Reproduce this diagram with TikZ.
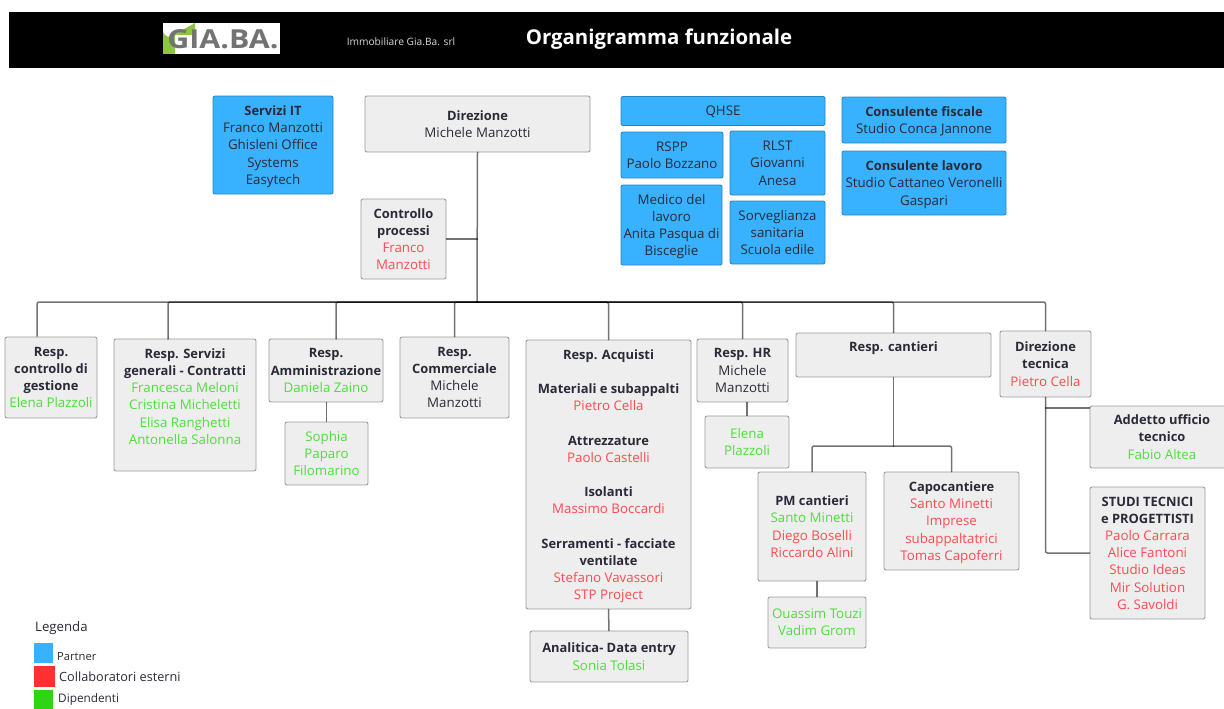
\documentclass[tikz,border=0pt]{standalone}
\usepackage{fontspec}
\setmainfont{Open Sans}[BoldFeatures={Scale=0.97}]
\usepackage{tikz}
\definecolor{partnerblue}{HTML}{38B1FF}
\definecolor{partnerline}{HTML}{2A85BF}
\definecolor{boxgrey}{HTML}{EEEEEE}
\definecolor{boxline}{HTML}{9A9A9A}
\definecolor{nametext}{HTML}{2A2A38}
\definecolor{collabred}{HTML}{FF4A4F}
\definecolor{dipgreen}{HTML}{4CDF3A}
\definecolor{legendred}{HTML}{FF3030}
\definecolor{legendgreen}{HTML}{2FD514}
\definecolor{logogreen}{HTML}{8CC63F}
\tikzset{
	sized/.style 2 args={minimum width=#1,minimum height=#2},
	base/.style={rounded corners=2pt,line width=0.9pt,align=center,inner sep=0pt,text depth=-4pt,text=nametext,font=\fontsize{13.3}{17.2}\selectfont},
	greybox/.style={base,draw=boxline,fill=boxgrey},
	bluebox/.style={base,draw=partnerline,fill=partnerblue},
	link/.style={draw=black,draw opacity=0.55,line width=1.5pt,rounded corners=2pt},
	legendtext/.style={anchor=west,inner sep=0pt,text=nametext}
}
\begin{document}
\begin{tikzpicture}[line cap=round,line join=round,x=1pt,y=-1pt]
	\useasboundingbox (0,0) rectangle (1224,709);
	\fill[black] (9,12) rectangle (1224,68);
	\fill[white] (163,23) rectangle (280,54);
	\fill[logogreen] (163,54) -- (163,30) arc (180:90:7) -- (195,23) -- (195,35) -- (175,35) -- (175,54) -- cycle;
	\node[anchor=center,inner sep=0pt,text=black!55] (logo) at (223,39) {\fontsize{27}{27}\selectfont\bfseries\scalebox{1.16}[1]{GIA.BA.}};
	\node[anchor=center,inner sep=0pt,text=white!85!black] (company) at (401,41.5) {\fontsize{10.2}{12}\selectfont Immobiliare Gia.Ba. srl};
	\node[anchor=center,inner sep=0pt,text=white] (title) at (659,39) {\fontsize{21}{24}\selectfont\bfseries Organigramma funzionale};

	\node[bluebox,sized={120pt}{98pt}] (it) at (273,145) {\textbf{Servizi IT}\\Franco Manzotti\\Ghisleni Office\\Systems\\Easytech};
	\node[greybox,sized={225pt}{56pt}] (direzione) at (477.5,124) {\textbf{Direzione}\\Michele Manzotti};
	\node[greybox,sized={85pt}{80pt}] (controllo) at (403.5,239) {\textbf{Controllo}\\\textbf{processi}\\\textcolor{collabred}{Franco}\\\textcolor{collabred}{Manzotti}};

	\node[bluebox,sized={204pt}{29pt}] (qhse) at (723,111) {QHSE};
	\node[bluebox,sized={102pt}{46pt}] (rspp) at (672,155) {RSPP\\Paolo Bozzano};
	\node[bluebox,sized={95pt}{64pt}] (rlst) at (777.5,163) {RLST\\Giovanni\\Anesa};
	\node[bluebox,sized={101pt}{80pt}] (medico) at (671.5,225) {Medico del\\lavoro\\Anita Pasqua di\\Bisceglie};
	\node[bluebox,sized={95pt}{63pt}] (sorveglianza) at (777.5,232.5) {Sorveglianza\\sanitaria\\Scuola edile};
	\node[bluebox,sized={164pt}{46pt}] (fiscale) at (924,120) {\textbf{Consulente fiscale}\\Studio Conca Jannone};
	\node[bluebox,sized={164pt}{64pt}] (lavoro) at (924,183) {\textbf{Consulente lavoro}\\Studio Cattaneo Veronelli\\Gaspari};

	\node[greybox,sized={92pt}{81pt}] (gestione) at (51,377.5) {\textbf{Resp.}\\\textbf{controllo di}\\\textbf{gestione}\\\textcolor{dipgreen}{Elena Plazzoli}};
	\node[greybox,sized={142pt}{132pt}] (servizi) at (185,405) {\textbf{Resp. Servizi}\\\textbf{generali - Contratti}\\\textcolor{dipgreen}{Francesca Meloni}\\\textcolor{dipgreen}{Cristina Micheletti}\\\textcolor{dipgreen}{Elisa Ranghetti}\\\textcolor{dipgreen}{Antonella Salonna}\\~};
	\node[greybox,sized={114pt}{63pt}] (amministrazione) at (326,370.5) {\textbf{Resp.}\\\textbf{Amministrazione}\\\textcolor{dipgreen}{Daniela Zaino}};
	\node[greybox,sized={83pt}{63pt}] (sophia) at (326.5,453.5) {\textcolor{dipgreen}{Sophia}\\\textcolor{dipgreen}{Paparo}\\\textcolor{dipgreen}{Filomarino}};
	\node[greybox,sized={109pt}{81pt}] (commerciale) at (454.5,377.5) {\textbf{Resp.}\\\textbf{Commerciale}\\Michele\\Manzotti};
	\node[greybox,sized={165pt}{269pt}] (acquisti) at (608.5,474.5) {\textbf{Resp. Acquisti}\\~\\\textbf{Materiali e subappalti}\\\textcolor{collabred}{Pietro Cella}\\~\\\textbf{Attrezzature}\\\textcolor{collabred}{Paolo Castelli}\\~\\\textbf{Isolanti}\\\textcolor{collabred}{Massimo Boccardi}\\~\\\textbf{Serramenti - facciate}\\\textbf{ventilate}\\\textcolor{collabred}{Stefano Vavassori}\\\textcolor{collabred}{STP Project}};
	\node[greybox,sized={158pt}{51pt}] (analitica) at (609,656.5) {\textbf{Analitica- Data entry}\\\textcolor{dipgreen}{Sonia Tolasi}};
	\node[greybox,sized={91pt}{63pt}] (hr) at (742.5,370.5) {\textbf{Resp. HR}\\Michele\\Manzotti};
	\node[greybox,sized={84pt}{52pt}] (elena) at (747,442) {\textcolor{dipgreen}{Elena}\\\textcolor{dipgreen}{Plazzoli}};
	\node[greybox,sized={195pt}{44pt}] (cantieri) at (893.5,355) {\textbf{Resp. cantieri}\\~};
	\node[greybox,sized={108pt}{109pt}] (pm) at (812,526.5) {\textbf{PM cantieri}\\\textcolor{dipgreen}{Santo Minetti}\\\textcolor{collabred}{Diego Boselli}\\\textcolor{collabred}{Riccardo Alini}};
	\node[greybox,sized={135pt}{98pt}] (capo) at (951.5,521) {\textbf{Capocantiere}\\\textcolor{collabred}{Santo Minetti}\\\textcolor{collabred}{Imprese}\\\textcolor{collabred}{subappaltatrici}\\\textcolor{collabred}{Tomas Capoferri}};
	\node[greybox,sized={98pt}{51pt}] (ouassim) at (817,622.5) {\textcolor{dipgreen}{Ouassim Touzi}\\\textcolor{dipgreen}{Vadim Grom}};
	\node[greybox,sized={91pt}{66pt}] (tecnica) at (1045.5,364) {\textbf{Direzione}\\\textbf{tecnica}\\\textcolor{collabred}{Pietro Cella}};
	\node[greybox,sized={144pt}{62pt}] (addetto) at (1162,437) {\textbf{Addetto ufficio}\\\textbf{tecnico}\\\textcolor{dipgreen}{Fabio Altea}};
	\node[greybox,sized={115pt}{132pt}] (studi) at (1147.5,553) {\textbf{STUDI TECNICI}\\\textbf{e PROGETTISTI}\\\textcolor{collabred}{Paolo Carrara}\\\textcolor{collabred}{Alice Fantoni}\\\textcolor{collabred}{Studio Ideas}\\\textcolor{collabred}{Mir Solution}\\\textcolor{collabred}{G. Savoldi}};

	\coordinate (bus) at (477,302);
	\coordinate (gestionetop) at (37,336);
	\coordinate (servizitop) at (168,339);
	\coordinate (amministrazionetop) at (336,339);
	\coordinate (cantieribus) at (893.5,446);
	\coordinate (tecnicatap) at (1045.5,408);
	\draw[link] (direzione.south) -- (bus);
	\draw[link] (controllo.east) -- (controllo.east -| direzione.south);
	\draw[link] (bus) -| (gestionetop);
	\draw[link] (bus) -| (servizitop);
	\draw[link] (bus) -| (amministrazionetop);
	\draw[link] (bus) -| (commerciale.north);
	\draw[link] (bus) -| (acquisti.north);
	\draw[link] (bus) -| (hr.north);
	\draw[link] (bus) -| (cantieri.north);
	\draw[link] (bus) -| (tecnica.north);
	\draw[link] (amministrazione.south -| sophia.north) -- (sophia.north);
	\draw[link] (elena.north |- hr.south) -- (elena.north);
	\draw[link] (acquisti.south) -- (analitica.north);
	\draw[link] (cantieri.south) -- (cantieribus);
	\draw[link] (cantieribus) -| (pm.north);
	\draw[link] (cantieribus) -| (capo.north);
	\draw[link] (ouassim.north |- pm.south) -- (ouassim.north);
	\draw[link] (tecnica.south) |- (studi.west);
	\draw[link] (tecnicatap) -- (tecnicatap -| addetto.west);

	\node[legendtext,font=\fontsize{13.2}{15}\selectfont] (legenda) at (35,628) {Legenda};
	\fill[partnerblue] (34,643) rectangle (53,663);
	\fill[legendred] (34,666) rectangle (55,687);
	\fill[legendgreen] (34,690) rectangle (53,709);
	\node[legendtext,font=\fontsize{11.2}{13}\selectfont] (partner) at (57,657) {Partner};
	\node[legendtext,font=\fontsize{12.7}{15}\selectfont] (collab) at (59,677) {Collaboratori esterni};
	\node[legendtext,font=\fontsize{11.8}{13}\selectfont] (dipendenti) at (58,699) {Dipendenti};
\end{tikzpicture}
\end{document}
